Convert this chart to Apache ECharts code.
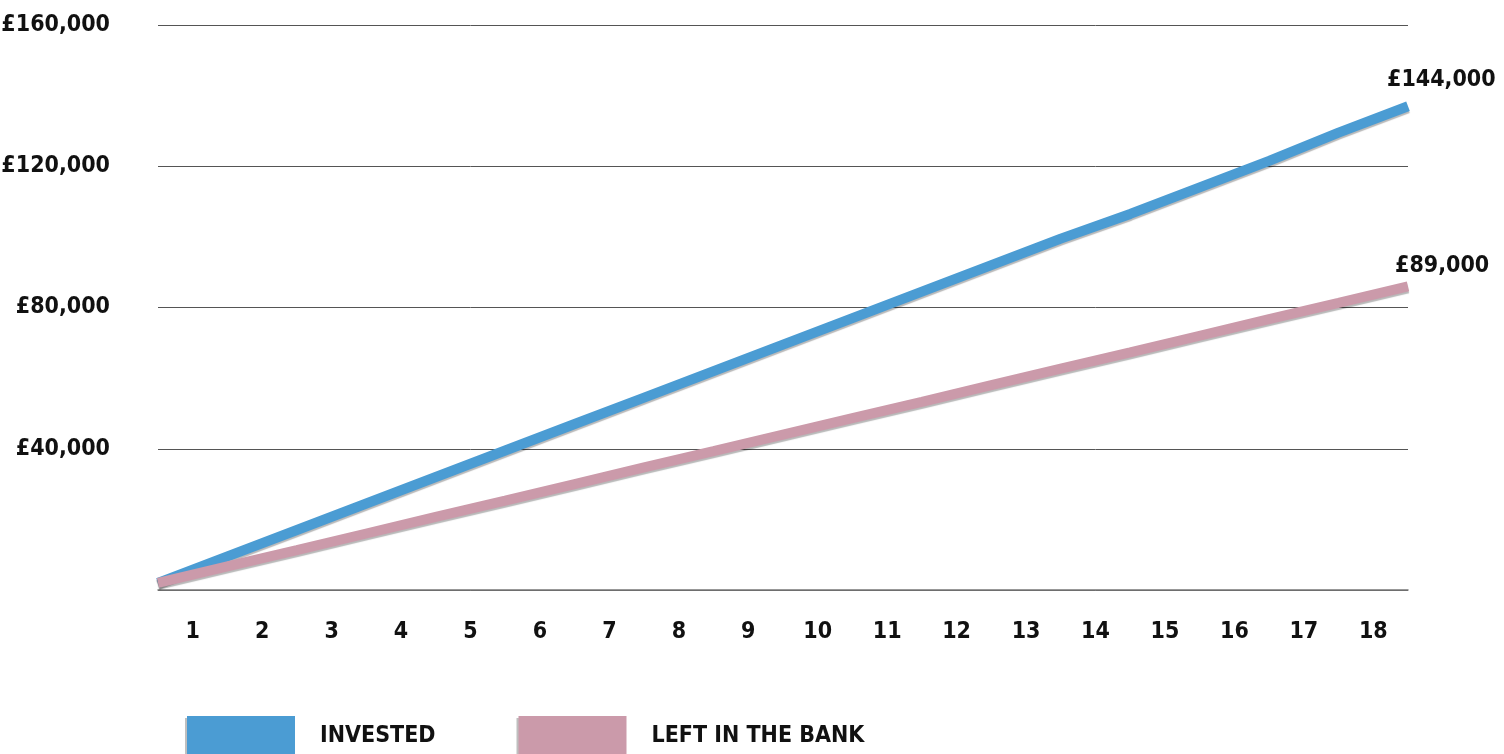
<!DOCTYPE html>
<html>
<head>
<meta charset="utf-8">
<title>Invested vs left in the bank</title>
<script src="https://cdn.jsdelivr.net/npm/echarts@6/dist/echarts.min.js"></script>
<style>
    html, body { margin: 0; padding: 0; background: #fff; }
    #chartDiv { width: 1504px; height: 754px; }
</style>
</head>
<body>
<div id="chartDiv"></div>
<script>
    // years shown under the axis
    var years = ['1', '2', '3', '4', '5', '6', '7', '8', '9', '10', '11', '12', '13', '14', '15', '16', '17', '18'];
    // value at start of year 1 (0) through end of year 18 (18)
    var invested = [2000, 9500, 17000, 24500, 32000, 39500, 47000, 54500, 62000, 69500, 77000, 84500, 92000, 99500, 106500, 114000, 121500, 129500, 137000];
    var leftInBank = [2000, 6700, 11300, 16000, 20700, 25300, 30000, 34700, 39300, 44000, 48700, 53300, 58000, 62700, 67300, 72000, 76700, 81300, 86000];
    var seriesNames = ['INVESTED', 'LEFT IN THE BANK'];
    var endLabels = ['£144,000', '£89,000'];
    var yTicks = [0, 40000, 80000, 120000, 160000];

    var font = '"DejaVu Sans", sans-serif';
    var weight = 'bold condensed';
    var fs = 23;
    var colors = ['#4b9cd3', '#cb9aaa'];
    var labelOffsets = [[-21, -26], [-13, -20]];

    function pairs(arr) {
        return arr.map(function (v, i) { return [i, v]; });
    }

    function lineSeries(idx, arr) {
        return {
            name: seriesNames[idx],
            type: 'line',
            xAxisIndex: 1,
            data: pairs(arr),
            showSymbol: false,
            symbol: 'none',
            z: 3,
            color: colors[idx],
            lineStyle: {
                width: 10,
                cap: 'butt',
                color: colors[idx],
                shadowColor: 'rgba(0,0,0,0.28)',
                shadowBlur: 1,
                shadowOffsetY: 2
            },
            endLabel: {
                show: true,
                distance: 0,
                offset: labelOffsets[idx],
                formatter: endLabels[idx],
                fontFamily: font,
                fontWeight: weight,
                fontSize: fs,
                color: '#111'
            }
        };
    }

    var chart = echarts.init(document.getElementById('chartDiv'), null, { renderer: 'canvas' });
    var option = {
        animation: false,
        backgroundColor: '#fff',
        grid: { left: 158, right: 96, top: 25, bottom: 164, containLabel: false, outerBoundsMode: 'none' },
        legend: {
            left: 187,
            top: 716,
            padding: 0,
            itemWidth: 108,
            itemHeight: 40,
            itemGap: 83,
            icon: 'rect',
            data: seriesNames,
            textStyle: {
                fontFamily: font,
                fontWeight: weight,
                fontSize: fs,
                color: '#111',
                padding: [0, 0, 0, 20]
            },
            itemStyle: {
                shadowColor: 'rgba(0,0,0,0.25)',
                shadowOffsetX: -2,
                shadowOffsetY: 2
            }
        },
        xAxis: [{
            type: 'category',
            data: years,
            boundaryGap: true,
            position: 'bottom',
            axisLine: { show: true, lineStyle: { color: '#777', width: 1.5 } },
            axisTick: { show: false },
            axisLabel: {
                margin: 31,
                fontFamily: font,
                fontWeight: weight,
                fontSize: fs,
                color: '#111'
            },
            splitLine: { show: false }
        }, {
            type: 'value',
            min: 0,
            max: years.length,
            position: 'top',
            show: false
        }],
        yAxis: {
            type: 'value',
            min: yTicks[0],
            max: yTicks[yTicks.length - 1],
            interval: 40000,
            axisLine: { show: false },
            axisTick: { show: false },
            axisLabel: {
                margin: 48,
                fontFamily: font,
                fontWeight: weight,
                fontSize: fs,
                color: '#111',
                formatter: function (v) {
                    return v === 0 ? '' : '£' + v.toLocaleString('en-GB');
                }
            },
            splitLine: { lineStyle: { color: '#555', width: 1 } }
        },
        series: [lineSeries(0, invested), lineSeries(1, leftInBank)]
    };
    chart.setOption(option);
</script>
</body>
</html>
